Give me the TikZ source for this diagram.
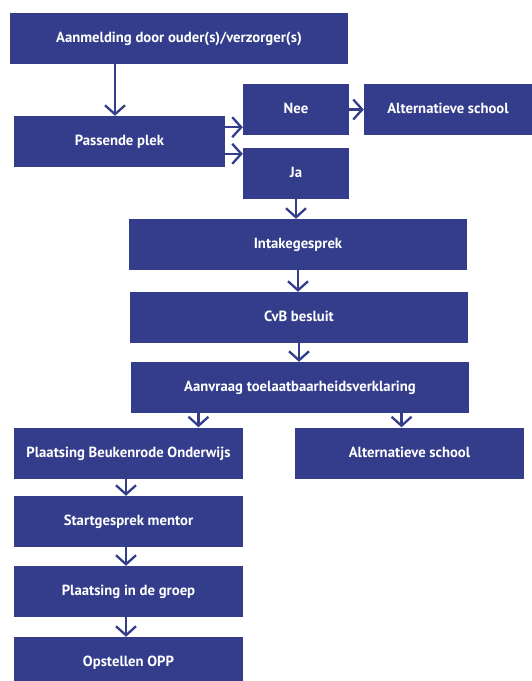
\documentclass[tikz,border=0pt]{standalone}
\usepackage{fontspec}
\setmainfont{PT Sans}
\usetikzlibrary{arrows.meta,calc}
\definecolor{donkerblauw}{RGB}{51,61,139}
\begin{document}
\begin{tikzpicture}[x=1pt, y=-1pt,
	blok/.style = {fill=donkerblauw, text=white, font=\bfseries\fontsize{14.7}{17}\selectfont, inner sep=0pt, minimum height=51pt, text height=9pt, text depth=.8pt},
	pijl/.style = {draw=donkerblauw, line width=2.3pt, -{Straight Barb[length=9pt,width=20pt]}}]
	\useasboundingbox (0,0) rectangle (532,681);
	
	\node[blok, minimum width=338pt] (aanm) at (179,38) {Aanmelding door ouder(s)/verzorger(s)};
	\node[blok, minimum width=211pt] (plek) at (119.5,141.5) {Passende plek};
	\node[blok, minimum width=106pt] (nee) at (296,109.5) {Nee};
	\node[blok, minimum width=168pt] (alt1) at (448,109.5) {Alternatieve school};
	\node[blok, minimum width=106pt] (ja) at (296,173.5) {Ja};
	\node[blok, minimum width=338pt] (intake) at (298,244.5) {Intakegesprek};
	\node[blok, minimum width=338pt] (cvb) at (299,317.5) {CvB besluit};
	\node[blok, minimum width=338pt] (tlv) at (300,387.5) {Aanvraag toelaatbaarheidsverklaring};
	\node[blok, minimum width=229pt] (plaats) at (128.5,453) {Plaatsing Beukenrode Onderwijs};
	\node[blok, minimum width=229pt] (alt2) at (409.5,453) {Alternatieve school};
	\node[blok, minimum width=229pt] (start) at (128.5,521.5) {Startgesprek mentor};
	\node[blok, minimum width=229pt] (groep) at (128.5,591.5) {Plaatsing in de groep};
	\node[blok, minimum width=229pt] (opp) at (128.5,662.5) {Opstellen OPP};
	
	\coordinate (t1) at ($(tlv.south west)!.2!(tlv.south east)$);
	\coordinate (t2) at ($(tlv.south west)!.8!(tlv.south east)$);
	
	\draw[pijl] ($(plek.north |- aanm.south)+(-4.5,0)$) -- ($(plek.north)+(-4.5,0)$);
	\draw[pijl] ($(plek.east |- nee.south)+(0,-8)$) -- ($(nee.south west)+(0,-8)$);
	\draw[pijl] ($(plek.east |- ja.north)+(0,6)$) -- ($(ja.north west)+(0,6)$);
	\draw[pijl] (nee) -- (alt1);
	\draw[pijl] (ja) -- (ja |- intake.north);
	\draw[pijl] (intake) -- (intake |- cvb.north);
	\draw[pijl] (cvb) -- (cvb |- tlv.north);
	\draw[pijl] (t1) -- (t1 |- plaats.north);
	\draw[pijl] (t2) -- (t2 |- alt2.north);
	\draw[pijl] ($(plaats.south)+(-2.5,0)$) -- ($(start.north)+(-2.5,0)$);
	\draw[pijl] ($(start.south)+(-2.5,0)$) -- ($(groep.north)+(-2.5,0)$);
	\draw[pijl] ($(groep.south)+(-2.5,0)$) -- ($(opp.north)+(-2.5,0)$);
\end{tikzpicture}
\end{document}
